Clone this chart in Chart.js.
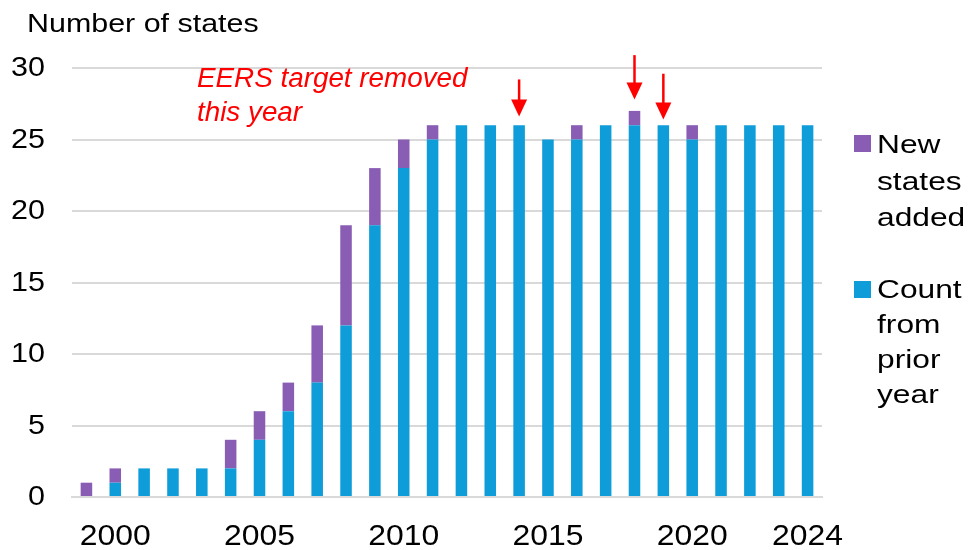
<!DOCTYPE html>
<html>
<head>
<meta charset="utf-8">
<script src="https://cdn.jsdelivr.net/npm/chart.js@4/dist/chart.umd.min.js"></script>
<style>
  html, body { margin: 0; padding: 0; background: #fff; }
  #wrap { width: 969px; height: 550px; }
</style>
</head>
<body>
<div id="wrap"><canvas id="chart"></canvas></div>
<script>
const years = ['1999','2000','2001','2002','2003','2004','2005','2006','2007','2008','2009','2010','2011','2012','2013','2014','2015','2016','2017','2018','2019','2020','2021','2022','2023','2024'];
const countFromPrior = [0,1,2,2,2,2,4,6,8,12,19,23,25,26,26,26,25,25,26,26,26,25,26,26,26,26];
const newStatesAdded = [1,1,0,0,0,2,2,2,4,7,4,2,1,0,0,0,0,1,0,1,0,1,0,0,0,0];
const shownYears = ['2000','2005','2010','2015','2020','2024'];
const yTicks = [0,5,10,15,20,25,30];

// arrows marking years the EERS target was removed (start value, tip value)
const arrowYears = ['2014','2018','2019'];
const arrowFrom = [29.2, 30.9, 29.6];
const arrowTo = [26.6, 27.8, 26.4];

const BLUE = '#0E9DD9';
const PURPLE = '#8A5DB4';
const GRID = '#D9D9D9';
const FONT = '"Liberation Sans", Arial, sans-serif';

// the source text is a bit wider than plain Arial, so stretch it sideways
function wideText(ctx, text, x, y, sx) {
    ctx.save();
    ctx.translate(x, y);
    ctx.scale(sx, 1);
    ctx.fillText(text, 0, 0);
    ctx.restore();
}

const extras = {
    id: 'extras',
    afterDraw(chart) {
        const ctx = chart.ctx;
        const x = chart.scales.x, y = chart.scales.y;
        ctx.save();
        ctx.fillStyle = '#000';

        // tick labels
        ctx.font = `27px ${FONT}`;
        ctx.textAlign = 'right';
        ctx.textBaseline = 'middle';
        yTicks.forEach(v => wideText(ctx, String(v), 45, y.getPixelForValue(v) + 1, 1.13));
        ctx.font = `29px ${FONT}`;
        ctx.textAlign = 'center';
        ctx.textBaseline = 'alphabetic';
        shownYears.forEach(yr => wideText(ctx, yr, x.getPixelForValue(years.indexOf(yr)), 545, 1.1));

        // axis title
        ctx.textAlign = 'left';
        ctx.font = `26px ${FONT}`;
        wideText(ctx, 'Number of states', 27, 32, 1.17);

        // annotation
        ctx.fillStyle = '#FF0000';
        ctx.font = `italic 27px ${FONT}`;
        wideText(ctx, 'EERS target removed', 197, 87, 1.03);
        wideText(ctx, 'this year', 197, 121, 1.03);

        // arrows
        ctx.strokeStyle = '#FF0000';
        ctx.lineWidth = 2.5;
        arrowYears.forEach((yr, i) => {
            const px = x.getPixelForValue(years.indexOf(yr));
            const y0 = y.getPixelForValue(arrowFrom[i]);
            const y1 = y.getPixelForValue(arrowTo[i]);
            ctx.beginPath();
            ctx.moveTo(px, y0);
            ctx.lineTo(px, y1 - 14);
            ctx.stroke();
            ctx.beginPath();
            ctx.moveTo(px - 8, y1 - 17);
            ctx.lineTo(px + 8, y1 - 17);
            ctx.lineTo(px, y1);
            ctx.closePath();
            ctx.fill();
        });

        // legend
        ctx.font = `26px ${FONT}`;
        ctx.fillStyle = PURPLE;
        ctx.fillRect(854, 135, 17, 17);
        ctx.fillStyle = BLUE;
        ctx.fillRect(854, 281, 17, 17);
        ctx.fillStyle = '#000';
        ['New', 'states', 'added'].forEach((t, i) => wideText(ctx, t, 877, 153 + i * 36.5, 1.22));
        ['Count', 'from', 'prior', 'year'].forEach((t, i) => wideText(ctx, t, 877, 298 + i * 35, 1.22));

        ctx.restore();
    }
};

new Chart(document.getElementById('chart'), {
    type: 'bar',
    data: {
        labels: years,
        datasets: [
            {
                label: 'Count from prior year',
                data: countFromPrior,
                backgroundColor: BLUE,
                barPercentage: 0.4,
                categoryPercentage: 1
            },
            {
                label: 'New states added',
                data: newStatesAdded,
                backgroundColor: PURPLE,
                barPercentage: 0.4,
                categoryPercentage: 1
            }
        ]
    },
    options: {
        responsive: true,
        maintainAspectRatio: false,
        animation: false,
        layout: { padding: { top: 68, right: 147, left: 0, bottom: 0 } },
        plugins: {
            legend: { display: false },
            tooltip: { enabled: false }
        },
        scales: {
            x: {
                stacked: true,
                grid: { display: false, drawTicks: false },
                border: { color: GRID, width: 2 },
                ticks: { display: false },
                afterFit(s) { s.height = 53; }
            },
            y: {
                stacked: true,
                min: 0,
                max: 30,
                afterBuildTicks(s) { s.ticks = yTicks.map(v => ({ value: v })); },
                grid: { color: GRID, lineWidth: 2, drawTicks: false },
                border: { display: false },
                ticks: { display: false },
                afterFit(s) { s.width = 72; }
            }
        }
    },
    plugins: [extras]
});
</script>
</body>
</html>
